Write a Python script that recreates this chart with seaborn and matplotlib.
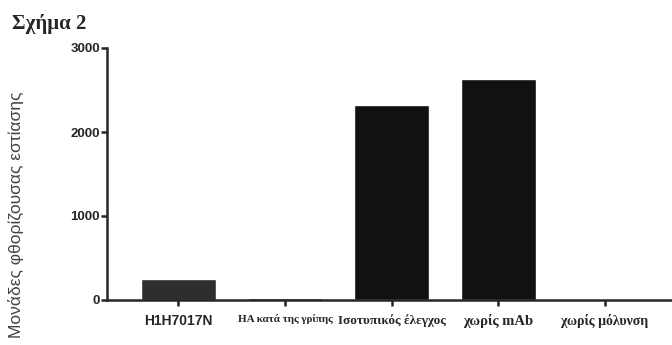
import pandas as pd
import seaborn as sns
import matplotlib.pyplot as plt

categories = ["H1H7017N", "HA κατά της γρίπης", "Ισοτυπικός έλεγχος", "χωρίς mAb", "χωρίς μόλυνση"]
values = [250, 20, 2320, 2630, 15]
yticks = [0, 1000, 2000, 3000]

df = pd.DataFrame({"group": categories, "value": values})

sns.set_style("ticks")
plt.rcParams["font.family"] = ["Liberation Sans", "DejaVu Sans"]

fig = plt.figure(figsize=(6.72, 3.45), dpi=100)
ax = fig.add_axes([107 / 672, 1 - 300 / 345, 1 - 107 / 672, (300 - 48) / 345])

sns.barplot(
    data=df, x="group", y="value",
    palette=["#2e2e2e", "#111111", "#111111", "#111111", "#111111"],
    hue="group", legend=False,
    width=0.7, saturation=1, ax=ax,
)

ax.set_ylim(0, 3000)
ax.set_xlim(-0.67, 4.63)
ax.set_yticks(yticks)
ax.set_yticklabels([str(v) for v in yticks], fontsize=9.5, fontweight="bold")
ax.set_xlabel("")
ax.set_ylabel("")
sns.despine(ax=ax)
for s in ["left", "bottom"]:
    ax.spines[s].set_linewidth(1.8)
ax.tick_params(axis="both", width=1.8, length=4, pad=1)
ax.tick_params(axis="x", pad=6)

labels = ax.set_xticklabels(categories)
sizes = [10, 8, 9.5, 10.5, 10]
for i, lab in enumerate(labels):
    if i == 0:
        lab.set_family(["Liberation Sans", "DejaVu Sans"])
    else:
        lab.set_family(["Liberation Serif", "DejaVu Serif"])
    lab.set_fontsize(sizes[i])
    lab.set_fontweight("bold")

fig.text(12 / 672, 1 - 24 / 345, "Σχήμα 2", family=["Liberation Serif", "DejaVu Serif"],
         fontsize=15, fontweight="bold", va="center", ha="left")
fig.text(16 / 672, 1 - 215 / 345, "Μονάδες φθορίζουσας εστίασης", rotation=90,
         fontsize=12.5, color="#444444", va="center", ha="center")

fig.savefig("out.png", dpi=100)
